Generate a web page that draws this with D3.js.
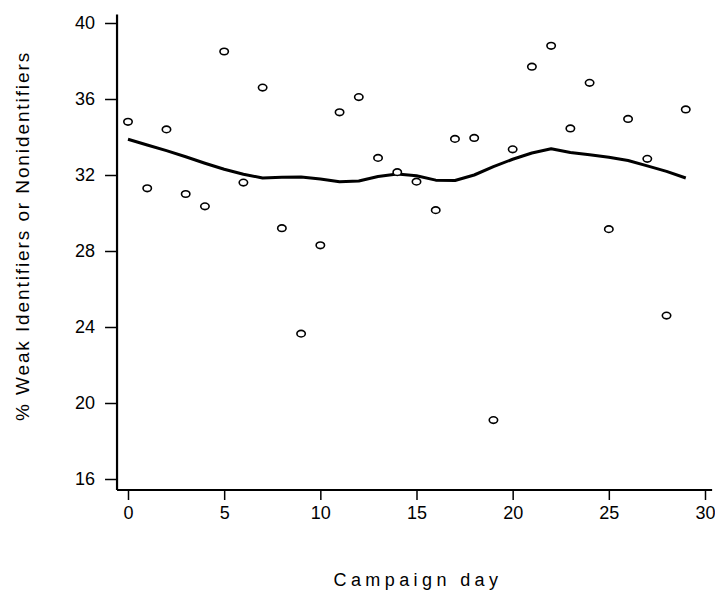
<!DOCTYPE html>
<html>
<head>
<meta charset="utf-8">
<script src="https://cdn.jsdelivr.net/npm/d3@7"></script>
<style>
  body { margin: 0; background: #fff; }
  svg text { font-family: Arial, "Liberation Sans", sans-serif; fill: #000; }
</style>
</head>
<body>
<div id="chart"></div>
<script>
// Campaign day vs % weak identifiers / nonidentifiers, with smoothed trend
const days = d3.range(0, 30);
const pctValues = [34.8, 31.3, 34.4, 31.0, 30.35, 38.5, 31.6, 36.6, 29.2, 23.65,
  28.3, 35.3, 36.1, 32.9, 32.15, 31.65, 30.15, 33.9, 33.95, 19.1,
  33.35, 37.7, 38.8, 34.45, 36.85, 29.15, 34.95, 32.85, 24.6, 35.45];
const smoothValues = [33.88, 33.58, 33.28, 32.96, 32.62, 32.3, 32.04, 31.84, 31.88, 31.9,
  31.79, 31.64, 31.68, 31.92, 32.05, 31.96, 31.73, 31.71, 32.0, 32.44,
  32.83, 33.16, 33.38, 33.18, 33.06, 32.93, 32.76, 32.48, 32.19, 31.84];
const xTicks = [0, 5, 10, 15, 20, 25, 30];
const yTicks = [16, 20, 24, 28, 32, 36, 40];

const width = 715, height = 599;
const svg = d3.select('#chart').append('svg')
  .attr('width', width)
  .attr('height', height);

const x = d3.scaleLinear().domain([0, 30]).range([128, 705]);
const y = d3.scaleLinear().domain([16, 40]).range([479, 23]);

// frame lines (left and bottom), a bit past the tick range
const frameLeft = x(-0.57), frameBottom = y(15.42);
svg.append('line')
  .attr('x1', frameLeft).attr('x2', frameLeft)
  .attr('y1', y(40.45)).attr('y2', frameBottom)
  .attr('stroke', '#000').attr('stroke-width', 2.2);
svg.append('line')
  .attr('x1', frameLeft).attr('x2', x(30.37))
  .attr('y1', frameBottom).attr('y2', frameBottom)
  .attr('stroke', '#000').attr('stroke-width', 2.2);

// y axis
const yAxis = svg.append('g')
  .attr('transform', `translate(${frameLeft},0)`)
  .call(d3.axisLeft(y).tickValues(yTicks).tickSize(12).tickPadding(10).tickSizeOuter(0));
yAxis.select('.domain').remove();
yAxis.selectAll('.tick line').attr('stroke-width', 1.5);
yAxis.selectAll('.tick text').style('font-size', '18px');

// x axis
const xAxis = svg.append('g')
  .attr('transform', `translate(0,${frameBottom})`)
  .call(d3.axisBottom(x).tickValues(xTicks).tickSize(10).tickPadding(6).tickSizeOuter(0));
xAxis.select('.domain').remove();
xAxis.selectAll('.tick line').attr('stroke-width', 1.5);
xAxis.selectAll('.tick text').style('font-size', '18px');

// smoothed trend
const line = d3.line()
  .x((d, i) => x(days[i]))
  .y(d => y(d));
svg.append('path')
  .datum(smoothValues)
  .attr('d', line)
  .attr('fill', 'none')
  .attr('stroke', '#000')
  .attr('stroke-width', 3)
  .attr('stroke-linejoin', 'round');

// points
svg.append('g')
  .selectAll('ellipse')
  .data(pctValues)
  .join('ellipse')
  .attr('cx', (d, i) => x(days[i]))
  .attr('cy', d => y(d))
  .attr('rx', 4.2)
  .attr('ry', 3.3)
  .attr('fill', '#fff')
  .attr('stroke', '#000')
  .attr('stroke-width', 1.6);

// axis titles
svg.append('text')
  .attr('x', 418)
  .attr('y', 586)
  .attr('text-anchor', 'middle')
  .style('font-size', '18px')
  .style('letter-spacing', '4.4px')
  .text('Campaign day');

svg.append('text')
  .attr('transform', 'translate(29,236) rotate(-90)')
  .attr('text-anchor', 'middle')
  .style('font-size', '19px')
  .style('letter-spacing', '1.9px')
  .text('% Weak Identifiers or Nonidentifiers');
</script>
</body>
</html>
